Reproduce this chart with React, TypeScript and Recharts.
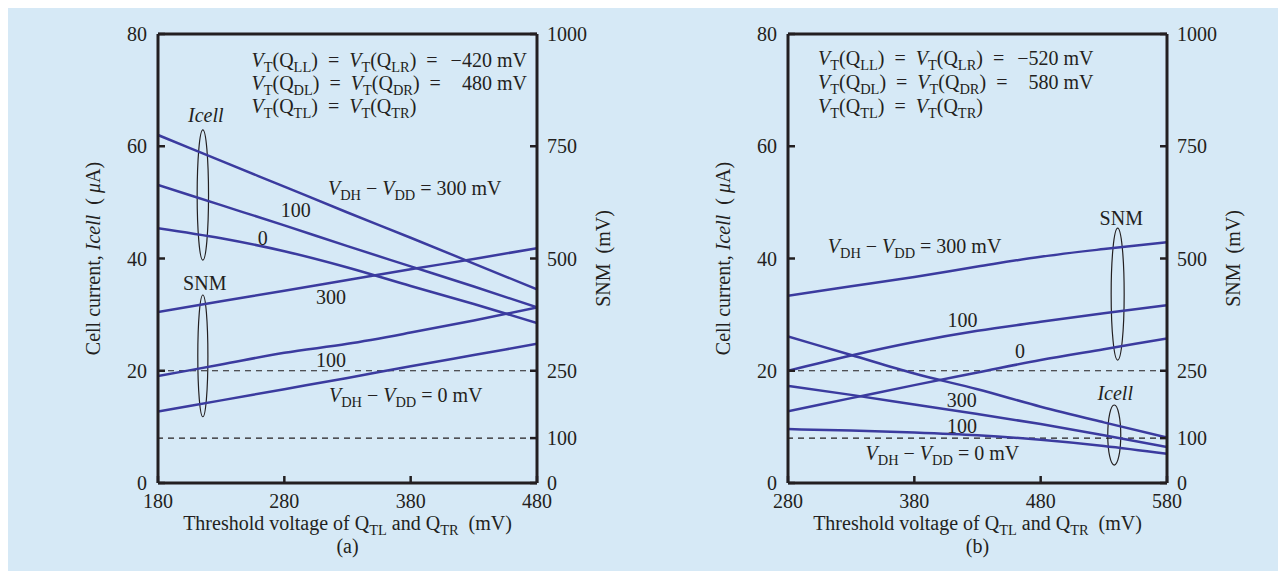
import React from "react"
import { ComposedChart, Line, XAxis, YAxis, ReferenceLine, ReferenceDot, ReferenceArea } from "recharts"

// threshold voltage of QTL / QTR (mV)
const thresholdA = [180, 230, 280, 330, 380, 430, 480]
const thresholdB = [280, 330, 380, 430, 480, 530, 580]

// cell current (uA), panel (a), by VDH - VDD
const icellA300 = [62.0, 57.4, 52.8, 48.2, 43.7, 39.1, 34.5]
const icellA100 = [53.1, 49.5, 45.9, 42.2, 38.6, 35.0, 31.3]
const icellA0 = [45.4, 43.6, 41.3, 38.4, 35.1, 31.9, 28.5]
// SNM (mV), panel (a)
const snmA300 = [381, 405, 428, 452, 476, 499, 523]
const snmA100 = [238, 264, 290, 310, 335, 362, 391]
const snmA0 = [159, 184, 209, 234, 260, 285, 310]

// panel (b)
const icellB300 = [26.1, 22.8, 19.5, 16.7, 13.6, 10.8, 8.1]
const icellB100 = [17.3, 15.7, 14.0, 12.3, 10.5, 8.5, 6.4]
const icellB0 = [9.6, 9.35, 9.0, 8.5, 7.7, 6.6, 5.2]
const snmB300 = [417, 438, 459, 482, 504, 521, 536]
const snmB100 = [250, 284, 314, 339, 359, 378, 396]
const snmB0 = [160, 189, 218, 246, 274, 298, 322]

const icellTicks = [0, 20, 40, 60, 80]
const snmTicks = [0, 100, 250, 500, 750, 1000]
const xTicksA = [180, 280, 380, 480]
const xTicksB = [280, 380, 480, 580]

const INK = "#231f20"
const BLUE = "#3b3b9f"
const BG = "#d6e9f6"
const FONT = "'Liberation Serif', 'Times New Roman', Times, serif"
const FS = 20

type Part = [string, string?]

function Rich({ x, y, parts, anchor = "start", size = FS }: { x: number; y: number; parts: Part[]; anchor?: string; size?: number }) {
  let down = false
  return (
    <text x={x} y={y} textAnchor={anchor} fill={INK} style={{ whiteSpace: "pre", fontFamily: FONT, fontSize: size }}>
      {parts.map(([t, k], i) => {
        let dy = 0
        if (k === "s" && !down) { dy = 5; down = true }
        else if (k !== "s" && down) { dy = -5; down = false }
        return (
          <tspan key={i} dy={dy} style={{ fontSize: k === "s" ? size * 0.72 : size, fontStyle: k === "i" ? "italic" : "normal" }}>
            {t}
          </tspan>
        )
      })}
    </text>
  )
}

const vt = (q: string): Part[] => [["V", "i"], ["T", "s"], ["(Q"], [q, "s"], [")"]]
const dh = (v: string): Part[] => [["V", "i"], ["DH", "s"], [" \u2212 "], ["V", "i"], ["DD", "s"], [" = " + v + " mV"]]

function rows(a: number, b: number, x: number, y: number, xr: number, lo: string, hi: string) {
  return [
    { x, y, parts: [...vt("LL"), ["  =  "], ...vt("LR"), ["  ="]] as Part[] },
    { x: xr, y, parts: [[lo]] as Part[], anchor: "end" },
    { x, y: a, parts: [...vt("DL"), ["  =  "], ...vt("DR"), ["  ="]] as Part[] },
    { x: xr, y: a, parts: [[hi]] as Part[], anchor: "end" },
    { x, y: b, parts: [...vt("TL"), ["  =  "], ...vt("TR")] as Part[] },
  ]
}

const tickText = { fontFamily: FONT, fontSize: FS }

const LeftTick = (p: any) => (
  <g>
    <line x1={p.x} x2={p.x + 7} y1={p.y} y2={p.y} stroke={INK} strokeWidth={2.5} />
    <text x={p.x - 11} y={p.y + 7} textAnchor="end" fill={INK} style={tickText}>{p.payload.value}</text>
  </g>
)
const RightTick = (p: any) => (
  <g>
    <line x1={p.x} x2={p.x - 7} y1={p.y} y2={p.y} stroke={INK} strokeWidth={2.5} />
    <text x={p.x + 10} y={p.y + 7} textAnchor="start" fill={INK} style={tickText}>{p.payload.value}</text>
  </g>
)
const BottomTick = (p: any) => (
  <g>
    <line x1={p.x} x2={p.x} y1={p.y} y2={p.y - 7} stroke={INK} strokeWidth={2.5} />
    <text x={p.x} y={p.y + 25} textAnchor="middle" fill={INK} style={tickText}>{p.payload.value}</text>
  </g>
)

type Note = { x: number; y: number; parts: Part[]; anchor?: string }
type Oval = { x1: number; x2: number; y1: number; y2: number }

type PanelProps = {
  xs: number[]
  xTicks: number[]
  icell: number[][]
  snm: number[][]
  notes: Note[]
  ovals: Oval[]
  caption: string
}

const toRows = (xs: number[], ys: number[]) => xs.map((x, i) => ({ x, y: ys[i] }))

function Panel({ xs, xTicks, icell, snm, notes, ovals, caption }: PanelProps) {
  const axis = { stroke: INK, strokeWidth: 3 }
  return (
    <ComposedChart width={640} height={568} margin={{ top: 31, right: 51, bottom: 28, left: 90 }}>
      <XAxis
        type="number"
        dataKey="x"
        domain={[xTicks[0], xTicks[xTicks.length - 1]]}
        ticks={xTicks}
        height={60}
        axisLine={axis}
        tickLine={false}
        tickSize={0}
        tickMargin={0}
        tick={<BottomTick />}
        allowDataOverflow
        label={{
          content: (lp: any) => {
            const vb = lp.viewBox
            const cx = vb.x + vb.width / 2
            return (
              <g>
                <Rich x={cx} y={vb.y + 47} anchor="middle" parts={[["Threshold voltage of Q"], ["TL", "s"], [" and Q"], ["TR", "s"], ["  (mV)"]]} />
                <Rich x={cx} y={vb.y + 70} anchor="middle" parts={[[caption]]} />
              </g>
            )
          },
        }}
      />
      <YAxis
        yAxisId="left"
        domain={[0, 80]}
        ticks={icellTicks}
        width={60}
        axisLine={axis}
        tickLine={false}
        tickSize={0}
        tickMargin={0}
        tick={<LeftTick />}
        label={{
          content: (lp: any) => {
            const vb = lp.viewBox
            const cx = vb.x + vb.width - 65
            const cy = vb.y + vb.height / 2
            return (
              <g transform={`rotate(-90 ${cx} ${cy})`}>
                <Rich x={cx} y={cy + 7} anchor="middle" parts={[["Cell current, "], ["Icell", "i"], ["  ( "], ["\u03bc", "i"], ["A)"]]} />
              </g>
            )
          },
        }}
      />
      <YAxis
        yAxisId="right"
        orientation="right"
        domain={[0, 1000]}
        ticks={snmTicks}
        width={60}
        axisLine={axis}
        tickLine={false}
        tickSize={0}
        tickMargin={0}
        tick={<RightTick />}
        label={{
          content: (lp: any) => {
            const vb = lp.viewBox
            const cx = vb.x + 66
            const cy = vb.y + vb.height / 2
            return (
              <g transform={`rotate(-90 ${cx} ${cy})`}>
                <Rich x={cx} y={cy + 7} anchor="middle" parts={[["SNM  (mV)"]]} />
              </g>
            )
          },
        }}
      />
      <ReferenceLine yAxisId="left" y={80} stroke={INK} strokeWidth={3} />
      <ReferenceLine yAxisId="right" y={250} stroke={INK} strokeWidth={1.2} strokeDasharray="6 5" />
      <ReferenceLine yAxisId="right" y={100} stroke={INK} strokeWidth={1.2} strokeDasharray="6 5" />
      {icell.map((ys, i) => (
        <Line key={"i" + i} type="monotone" yAxisId="left" data={toRows(xs, ys)} dataKey="y" stroke={BLUE} strokeWidth={2.5} dot={false} isAnimationActive={false} />
      ))}
      {snm.map((ys, i) => (
        <Line key={"s" + i} type="monotone" yAxisId="right" data={toRows(xs, ys)} dataKey="y" stroke={BLUE} strokeWidth={2.5} dot={false} isAnimationActive={false} />
      ))}
      {ovals.map((o, i) => (
        <ReferenceArea
          key={"o" + i}
          yAxisId="left"
          x1={o.x1}
          x2={o.x2}
          y1={o.y1}
          y2={o.y2}
          shape={(sp: any) => (
            <ellipse cx={sp.x + sp.width / 2} cy={sp.y + sp.height / 2} rx={Math.abs(sp.width) / 2} ry={Math.abs(sp.height) / 2} fill="none" stroke={INK} strokeWidth={1.2} />
          )}
        />
      ))}
      {notes.map((n, i) => (
        <ReferenceDot
          key={"n" + i}
          yAxisId="left"
          x={n.x}
          y={n.y}
          r={0}
          shape={(sp: any) => <Rich x={sp.cx} y={sp.cy} anchor={n.anchor} parts={n.parts} />}
        />
      ))}
    </ComposedChart>
  )
}

const notesA: Note[] = [
  ...rows(70.0, 65.9, 254.0, 74.2, 472.0, "\u2212420 mV", "480 mV"),
  { x: 217.8, y: 64.4, parts: [["Icell", "i"]], anchor: "middle" },
  { x: 314.5, y: 51.3, parts: dh("300") },
  { x: 289.1, y: 47.4, parts: [["100"]], anchor: "middle" },
  { x: 263.0, y: 42.4, parts: [["0"]], anchor: "middle" },
  { x: 217.0, y: 34.4, parts: [["SNM"]], anchor: "middle" },
  { x: 316.9, y: 31.9, parts: [["300"]], anchor: "middle" },
  { x: 316.9, y: 20.7, parts: [["100"]], anchor: "middle" },
  { x: 315.3, y: 14.4, parts: dh("0") },
]

const notesB: Note[] = [
  ...rows(70.2, 66.0, 303.8, 74.4, 521.8, "\u2212520 mV", "580 mV"),
  { x: 543.8, y: 46.0, parts: [["SNM"]], anchor: "middle" },
  { x: 311.5, y: 41.0, parts: dh("300") },
  { x: 418.1, y: 27.8, parts: [["100"]], anchor: "middle" },
  { x: 463.7, y: 22.3, parts: [["0"]], anchor: "middle" },
  { x: 417.5, y: 13.6, parts: [["300"]], anchor: "middle" },
  { x: 539.0, y: 14.8, parts: [["Icell", "i"]], anchor: "middle" },
  { x: 417.7, y: 8.9, parts: [["100"]], anchor: "middle" },
  { x: 341.4, y: 4.1, parts: dh("0") },
]

const ovalsA: Oval[] = [
  { x1: 211, x2: 220, y1: 39.7, y2: 62.9 },
  { x1: 211.5, x2: 219.5, y1: 11.8, y2: 33.5 },
]
const ovalsB: Oval[] = [
  { x1: 535.8, x2: 546.1, y1: 21.9, y2: 45.4 },
  { x1: 533.1, x2: 543.4, y1: 3.2, y2: 13.9 },
]

export default function App() {
  return (
    <div style={{ position: "relative", marginTop: -5, width: 1278, height: 568, background: BG, fontFamily: FONT }}>
      <div style={{ position: "absolute", left: 0, top: 0 }}>
        <Panel
          xs={thresholdA}
          xTicks={xTicksA}
          icell={[icellA300, icellA100, icellA0]}
          snm={[snmA300, snmA100, snmA0]}
          notes={notesA}
          ovals={ovalsA}
          caption="(a)"
        />
      </div>
      <div style={{ position: "absolute", left: 630, top: 0 }}>
        <Panel
          xs={thresholdB}
          xTicks={xTicksB}
          icell={[icellB300, icellB100, icellB0]}
          snm={[snmB300, snmB100, snmB0]}
          notes={notesB}
          ovals={ovalsB}
          caption="(b)"
        />
      </div>
    </div>
  )
}
